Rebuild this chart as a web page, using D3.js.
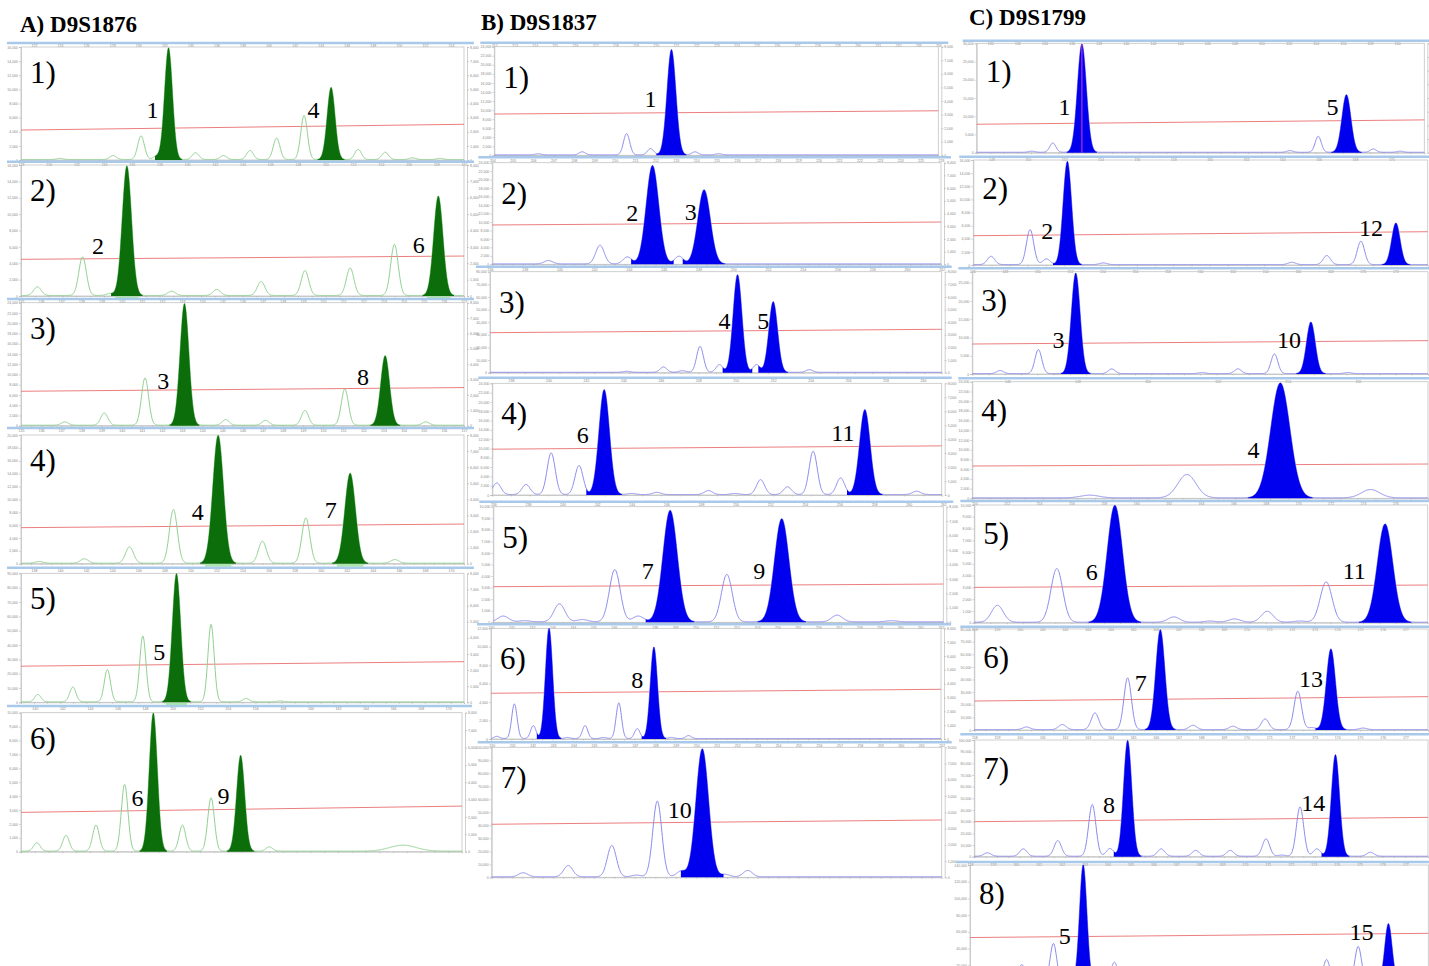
<!DOCTYPE html>
<html>
<head>
<meta charset="utf-8">
<script src="https://cdn.jsdelivr.net/npm/d3@7"></script>
<style>
body { margin: 0; background: #fff; }
svg { display: block; font-family: "Liberation Serif", "Times New Roman", serif; }
</style>
</head>
<body>
<div id="chart"></div>
<script>
// column titles
var titles = ["A) D9S1876", "B) D9S1837", "C) D9S1799"];

// peaks per panel: [position (% of trace width), height (% of full scale), filled 1/0, sd override]
var peaksA = [
  [[8.8,1],[20.8,3.5],[27.1,21],[30.6,3],[33.3,99,1],[39.4,6],[45.7,3.5],[51.7,8],[57.7,19],[63.9,39],[70.0,64,1],[76.1,9],[82.2,6.5],[88.4,1.5],[94.6,1]],
  [[3.7,6.6],[13.9,29.5],[20.1,1.5],[23.9,99,1],[34.0,3.3],[44.2,4.6],[54.2,10.7],[64.1,19],[74.3,21],[84.3,39],[94.2,76,1]],
  [[9.9,2.7],[18.8,10],[28.0,38.5],[36.9,99,1],[46.2,4.6],[55.2,4],[64.1,12],[73.1,29.5],[82.2,56.6,1],[91.4,2.7]],
  [[4.1,1.3],[14.3,3.4],[24.5,12.7],[34.4,41.7],[44.5,99.5,1],[54.5,17.1],[64.3,35.2],[74.3,70,1],[84.4,2.8]],
  [[3.8,5.7],[11.7,11.4],[19.5,25],[27.5,51],[35.1,99.5,1],[42.9,60],[50.8,2.6],[58.5,0.6]],
  [[3.6,6],[10.2,11.3],[17.0,18.7],[23.5,48],[30.0,99.5,1],[36.6,18.7],[43.1,38.4],[49.8,69,1],[56.3,3.1],[86.6,4.3,0,3]]
];
var peaksB = [
  [[9.9,1],[19.8,2.8],[29.8,19.6],[35.2,5.8],[39.9,97,1],[45.2,2.8],[50.5,1]],
  [[12.5,3.3],[24.0,18.4],[30.1,6.9],[35.7,97,1],[41.6,7.5],[47.2,73,1]],
  [[30.3,1],[38.4,5.3],[42.6,1.6],[46.5,25.7],[50.8,7.6],[54.8,96.7,1],[59.0,7.6],[62.7,70,1],[70.7,2.6]],
  [[1.0,10.4],[7.5,9],[13.1,37.3],[19.3,26],[24.9,94,1],[31.0,1],[36.6,2],[48.1,3.6],[54.0,1],[59.7,13.4],[65.7,6.9],[71.4,38.8],[77.5,14.9],[82.9,76.1,1],[94.4,3]],
  [[2.2,5],[7.0,1],[14.7,15.6],[19.8,2],[27.0,45.2],[32.2,5],[39.3,96.5,1],[51.9,41],[64.1,89.3,1],[76.4,5.8],[88.5,1]],
  [[1.3,2],[5.2,31.3],[9.4,11.7],[12.9,100,1],[17.0,1],[20.9,11.7],[25.0,1],[28.4,32.2],[32.5,9],[36.2,82.8,1],[40.1,1],[43.9,2.7]],
  [[7.0,3.1],[17.0,8.7],[26.7,24.1],[32.2,1.3],[36.8,58.2],[42.1,4.4],[46.8,98.5,1],[51.9,1.8],[56.9,4.9]]
];
var peaksC = [
  [[12.3,1],[17.0,8.5],[23.5,99,1],[70.0,1.5],[76.3,14.6],[82.6,52.7,1],[88.6,3],[94.6,1]],
  [[3.9,7.9],[12.5,33.3],[16.1,5.4],[20.7,98.4,1],[28.6,1.6],[70.1,2.2],[77.8,8.6],[85.3,22.2],[93.0,39.7,1]],
  [[6.1,3],[14.5,23.5],[22.7,98.4,1],[30.6,4.6],[50.4,1],[58.3,4.6],[66.3,19.2],[74.3,50.5,1],[82.4,1]],
  [[25.8,2.3],[47.1,20],[67.6,98.6,1],[87.4,7.1]],
  [[5.1,14.4],[18.2,45.6],[31.0,99.4,1],[44.0,4.5],[52.0,1],[57.4,2.8],[64.6,9.3],[71.8,1],[77.6,34.3],[90.6,83.6,1]],
  [[11.5,2.6],[19.4,5],[26.6,16.5],[33.8,51.2],[41.0,99,1],[48.2,4.3],[57.0,3.3],[64.1,10.6],[71.3,38],[74.4,2],[78.6,80,1],[85.7,1.5]],
  [[2.9,2.9],[10.8,6.3],[18.4,13.4],[26.0,44.3],[29.9,6.6],[33.8,99.4,1],[41.2,6.3],[48.8,5],[56.4,5],[64.3,14.9],[67.8,1],[71.8,42.3],[75.5,6.3],[79.6,87.1,1],[87.3,3.4]],
  [[11.3,14.5],[18.2,32.5],[24.7,100,1],[31.5,16.5],[77.8,18.8],[84.7,30],[91.3,49.6,1]]
];

// peak widths (sd, % of width): [open peaks, filled peaks]
var sdA = [[0.75,0.9],[0.85,1.05],[0.8,1.0],[0.9,1.2],[0.7,0.95],[0.75,0.92]];
var sdB = [[0.7,1.0],[0.95,1.4],[0.75,0.97],[0.9,1.17],[1.2,1.6],[0.6,0.8],[1.0,1.4]];
var sdC = [[0.68,1.0],[0.8,0.93],[0.75,0.96],[2.0,2.1],[1.3,1.7],[0.82,1.0],[0.8,0.9],[0.72,0.8]];

// red threshold line, % of full scale at left and right end
var thrA = [[26.5,31.6],[28,30.5],[28,31],[28,30.8],[28,31.5],[28.3,32.8]];
var thrB = [[38,41],[38.7,41.6],[39.6,43],[41,44],[30.8,33.1],[41.3,44.9],[40.8,44.1]];
var thrC = [[26,30],[27.9,31.7],[29.3,32.6],[27.7,29.4],[30,32],[28.7,33],[30,33.7],[38,41.6]];

// allele labels: [text, x %, y %]
var labelsA = [
  [["1",29.7,37],["4",66.0,37]],
  [["2",17.4,32],["6",89.8,32.8]],
  [["3",32.1,29.8],["8",77.2,33]],
  [["4",39.9,34],["7",69.9,35.5]],
  [["5",31.2,33]],
  [["6",26.4,32.9],["9",45.9,34.3]]
];
var labelsB = [
  [["1",35.2,44.2]],
  [["2",31.2,42.3],["3",44.2,43.3]],
  [["4",51.9,43.3],["5",60.5,43.3]],
  [["6",20.1,46.6],["11",78.0,48]],
  [["7",34.3,37.5],["9",59.1,37.5]],
  [["8",32.5,46.1]],
  [["10",41.8,45.6]]
];
var labelsC = [
  [["1",19.6,34.2],["5",79.5,34.2]],
  [["2",16.3,24.8],["12",87.5,27.3]],
  [["3",18.9,25.4],["10",69.5,25.4]],
  [["4",61.7,34.6]],
  [["6",25.9,36.5],["11",83.8,37.1]],
  [["7",36.7,38.3],["13",74.2,42.3]],
  [["8",29.7,37.4],["14",74.7,38.9]],
  [["5",20.7,32.5],["15",85.4,36.2]]
];

// size (bp) range on the top axis and left-axis full scale
var bpA = [[121,155],[128,160],[135,157],[135,157],[137,171],[139,171]];
var bpB = [[212,234],[204,226],[236,262],[237,261],[236,262],[240,262],[240,262]];
var bpC = [[129,162],[147,172],[146,174],[145,158],[150,178],[158,178],[158,178],[158,178]];
var ymaxA = [16000,16000,24000,20000,90000,10000];
var ymaxB = [24000,24000,80000,24000,10000,12000,100000];
var ymaxC = [30000,16000,28000,24000,10000,80000,100000,140000];

// panel boxes: [left, right, strip y, plot top, baseline]
var layoutA = [
  [21,464,43,47,160],[21,464,161.7,165,296],[21,464,299,302.7,425.7],
  [21,464,428,435,563.7],[21,464,567.7,573.3,702.3],[21,462,706,712.7,851.7]
];
var layoutB = [
  [494.3,938.3,42.7,46.7,155.3],[492.3,941,157.3,162.7,264.3],[490,941.7,266.7,271.7,372.7],
  [492.3,941.7,377.7,383.3,495],[493.3,943.3,501.7,506.7,622.3],[491,941,624.3,628.3,739],
  [491.7,941.7,742.3,747.3,877.3]
];
var layoutC = [
  [976.7,1424.3,40.7,43.3,152.7],[973.3,1427.7,156.7,160,265],[972.3,1428,268.3,271.7,374],
  [972.3,1428,378.3,381.7,498.3],[974.3,1427.7,501,505,622.7],[974.3,1428,626.7,629,730],
  [974.3,1428,734.3,740,856.7],[970,1428.3,862,865,982]
];

var columns = [
  {title: titles[0], tx: 20, ty: 32, peaks: peaksA, sd: sdA, thr: thrA, labels: labelsA, bp: bpA, ymax: ymaxA, layout: layoutA,
   fill: "#0b6e0b", line: "#8fd08f", bin: "#a6e8a6", labOff: 36},
  {title: titles[1], tx: 481, ty: 30, peaks: peaksB, sd: sdB, thr: thrB, labels: labelsB, bp: bpB, ymax: ymaxB, layout: layoutB,
   fill: "#0000ee", line: "#8a8aee", bin: null, labOff: 41},
  {title: titles[2], tx: 969, ty: 25, peaks: peaksC, sd: sdC, thr: thrC, labels: labelsC, bp: bpC, ymax: ymaxC, layout: layoutC,
   fill: "#0000ee", line: "#8a8aee", bin: null, labOff: 39}
];

var svg = d3.select("#chart").append("svg")
    .attr("width", 1429)
    .attr("height", 966);

function styleAxis(sel) {
  sel.selectAll("text").attr("font-family", "Liberation Sans, Arial, sans-serif")
     .attr("font-size", 3.5).attr("fill", "#888");
  sel.selectAll("line").attr("stroke", "#aaa").attr("stroke-width", 0.5);
  sel.select(".domain").attr("stroke", "#bbb").attr("stroke-width", 0.7);
}

columns.forEach(function(col, ci) {
  svg.append("text")
    .attr("x", col.tx).attr("y", col.ty)
    .attr("font-size", 23).attr("font-weight", "bold")
    .text(col.title);

  col.layout.forEach(function(L, i) {
    var left = L[0], right = L[1], stripY = L[2], top = L[3], base = L[4];
    var x = d3.scaleLinear().domain([0, 100]).range([left, right]);
    var y = d3.scaleLinear().domain([0, 100]).range([base, top]);
    var bp = d3.scaleLinear().domain(col.bp[i]).range([left, right]);
    var yl = d3.scaleLinear().domain([0, col.ymax[i]]).range([base, top]);
    var yr = d3.scaleLinear().domain([0, 8000]).range([base, top]);
    var g = svg.append("g");

    // blue header strip
    g.append("line")
      .attr("x1", left - 14).attr("x2", Math.min(right + 10, 1429))
      .attr("y1", stripY).attr("y2", stripY)
      .attr("stroke", "#a9c9ea").attr("stroke-width", 2.4);

    // size labels under the strip (only those that fit on the page)
    var bpTicks = bp.ticks(col.bp[i][1] - col.bp[i][0] > 15 ? 16 : 5)
      .filter(function(v) { return bp(v) > 5 && bp(v) < 1422; });
    g.append("g").attr("transform", "translate(0," + (stripY + 1.4) + ")")
      .call(d3.axisBottom(bp).tickValues(bpTicks).tickSize(0).tickPadding(0.5))
      .call(styleAxis)
      .select(".domain").remove();

    // left and right intensity axes (right labels only where they fit on the page)
    g.append("g").attr("transform", "translate(" + left + ",0)")
      .call(d3.axisLeft(yl).ticks(8).tickSize(2).tickPadding(1))
      .call(styleAxis);
    var rAxis = d3.axisRight(yr).ticks(8).tickSize(2).tickPadding(1);
    if (right + 16 > 1429) rAxis.tickFormat("");
    g.append("g").attr("transform", "translate(" + (right + 3) + ",0)")
      .call(rAxis)
      .call(styleAxis);

    // frame and baseline ticks
    g.append("rect")
      .attr("x", left).attr("y", top)
      .attr("width", right - left).attr("height", base - top)
      .attr("fill", "none").attr("stroke", "#c4c4c4").attr("stroke-width", 0.8);
    g.append("g").attr("transform", "translate(0," + base + ")")
      .call(d3.axisBottom(bp).ticks(32).tickSize(1.5).tickFormat(""))
      .call(styleAxis);

    // threshold line
    g.append("line")
      .attr("x1", x(0)).attr("x2", x(100))
      .attr("y1", y(col.thr[i][0])).attr("y2", y(col.thr[i][1]))
      .attr("stroke", "#ea6f6f").attr("stroke-width", 0.9);

    var pk = col.peaks[i];
    var sdOpen = col.sd[i][0], sdFill = col.sd[i][1];
    function sdOf(p) { return p[3] || (p[2] ? sdFill : sdOpen); }
    function signal(pos) {
      var s = 0.4;
      pk.forEach(function(p) {
        var d = (pos - p[0]) / sdOf(p);
        s += p[1] * Math.exp(-0.5 * d * d);
      });
      return Math.min(s, 100);
    }

    // trace
    var pts = d3.range(0, 100.0001, 0.08).map(function(p) { return [p, signal(p)]; });
    g.append("path")
      .datum(pts)
      .attr("fill", "none")
      .attr("stroke", col.line)
      .attr("stroke-width", 1)
      .attr("d", d3.line().x(function(d) { return x(d[0]); }).y(function(d) { return y(d[1]); }));

    // called allele peaks
    var area = d3.area()
      .x(function(d) { return x(d[0]); })
      .y0(y(0))
      .y1(function(d) { return y(d[1]); });
    pk.filter(function(p) { return p[2]; }).forEach(function(p) {
      var s = sdOf(p);
      var seg = d3.range(p[0] - 3.4 * s, p[0] + 3.4 * s, 0.04).map(function(q) { return [q, signal(q)]; });
      g.append("path").datum(seg)
        .attr("fill", col.fill)
        .attr("d", area);
      if (col.bin && i < col.layout.length - 1) {
        g.append("rect")
          .attr("x", x(p[0] - 2.5 * s)).attr("y", base + 0.5)
          .attr("width", x(p[0] + 2.5 * s) - x(p[0] - 2.5 * s)).attr("height", 2.5)
          .attr("fill", col.bin);
      }
    });

    // marker through the first called peak of C1
    if (ci === 2 && i === 0) {
      var first = pk.filter(function(p) { return p[2]; })[0];
      g.append("line")
        .attr("x1", x(first[0])).attr("x2", x(first[0]))
        .attr("y1", y(0)).attr("y2", y(first[1]))
        .attr("stroke", "#c436c8").attr("stroke-width", 1.1);
    }

    // panel number
    g.append("text")
      .attr("x", left + 9).attr("y", top + col.labOff)
      .attr("font-size", 31)
      .text((i + 1) + ")");

    // allele numbers
    g.selectAll(".lab")
      .data(col.labels[i])
      .enter().append("text")
        .attr("class", "lab")
        .attr("x", function(d) { return x(d[1]); })
        .attr("y", function(d) { return y(d[2]); })
        .attr("text-anchor", "middle")
        .attr("font-size", 24)
        .text(function(d) { return d[0]; });
  });
});
</script>
</body>
</html>
